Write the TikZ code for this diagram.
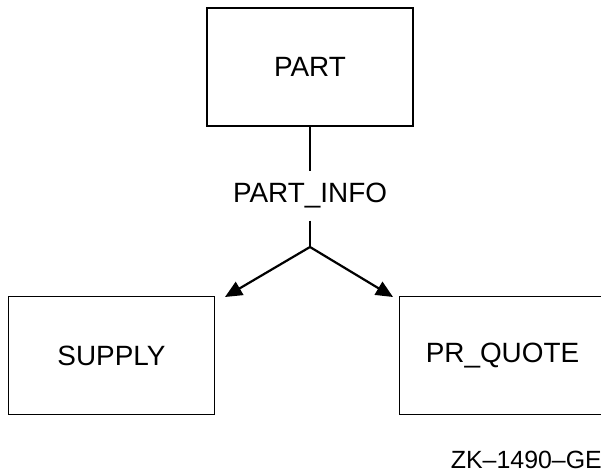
\documentclass[tikz,border=0pt]{standalone}
\usepackage{fontspec}
\setmainfont{Liberation Sans}
\usetikzlibrary{arrows.meta}
\begin{document}
\begin{tikzpicture}[x=1bp,y=1bp,
	entity/.style={draw,line width=1.6bp,minimum width=206bp,minimum height=118bp,font=\fontsize{28}{30}\selectfont},
	link/.style={line width=2.2bp,-{Triangle[length=17bp,width=15bp]}}]
		\useasboundingbox (0,0) rectangle (601,474);
		
		\node[entity] (part) at (310,407){PART};
		\node[entity] (supply) at (111.5,118.5){SUPPLY};
		\node[entity] (quote) at (502.5,118.5){PR\_QUOTE};
		
		\node[font=\fontsize{28}{30}\selectfont,inner xsep=0pt,inner ysep=12bp,anchor=base] (info) at (310,271){PART\_INFO};
		\coordinate (apex) at (310,227);
		\coordinate (tipL) at (225,177);
		\coordinate (tipR) at (393,177);
		
		\draw[line width=1.6bp] (part) -- (info);
		\draw[line width=1.6bp] (info) -- (apex);
		\draw[link] (apex) -- (tipL);
		\draw[link] (apex) -- (tipR);
		
		\node[font=\fontsize{25}{27}\selectfont,inner sep=0pt,anchor=base east] (tag) at (602,5){ZK--1490--GE};
		\end{tikzpicture}
\end{document}
